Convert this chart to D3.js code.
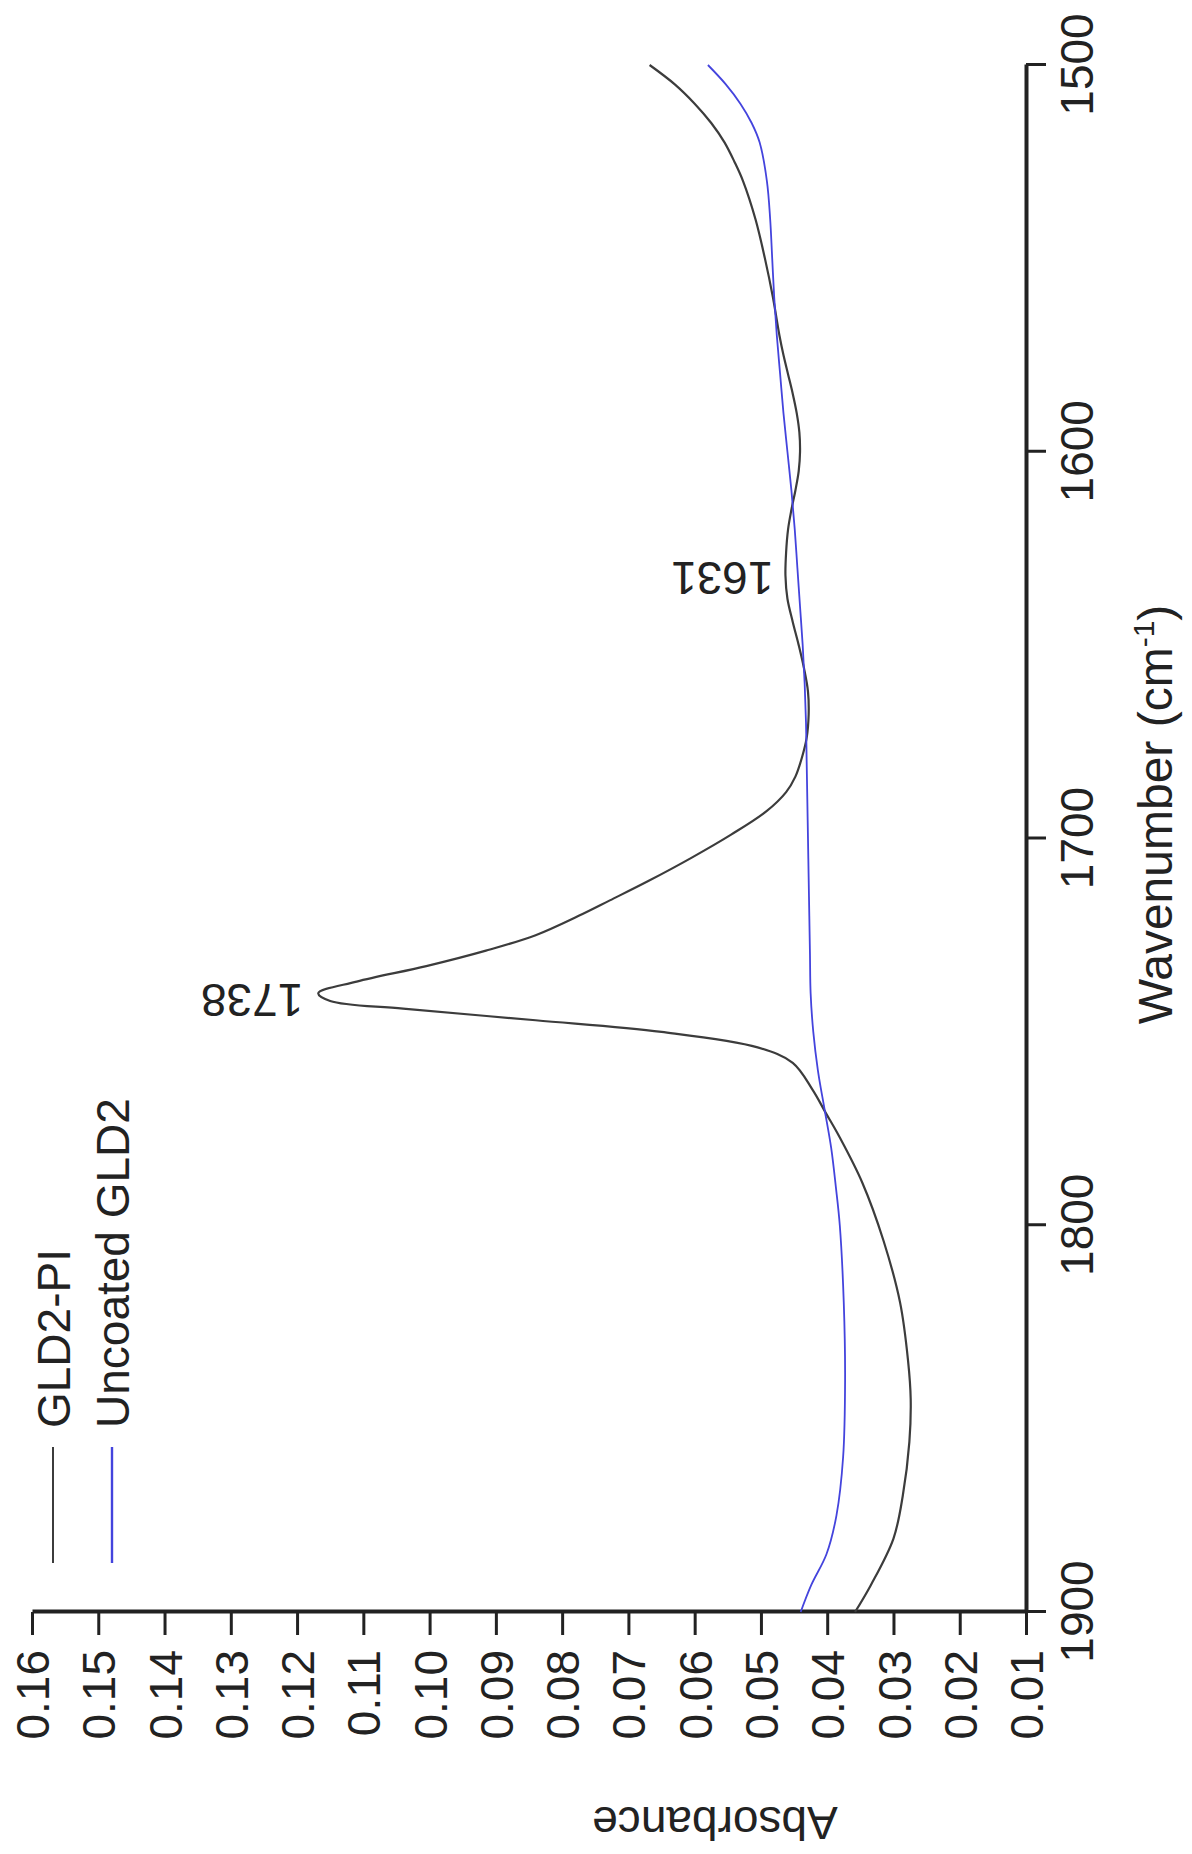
<!DOCTYPE html>
<html><head><meta charset="utf-8">
<script src="https://cdn.jsdelivr.net/npm/d3@7"></script>
<style>html,body{margin:0;padding:0;background:#fff}</style>
</head><body>
<svg id="c" width="1192" height="1854"></svg>
<script>
// ---- data ----
const wnMajorTicks = [1500, 1600, 1700, 1800, 1900];
const wnMinorTicks = [1550, 1650, 1750, 1850];
const absMajorTicks = [0.01,0.02,0.03,0.04,0.05,0.06,0.07,0.08,0.09,0.10,0.11,0.12,0.13,0.14,0.15,0.16];
const absMinorTicks = [0.015,0.025,0.035,0.045,0.055,0.065,0.075,0.085,0.095,0.105,0.115,0.125,0.135,0.145,0.155];
const seriesNames = ["GLD2-PI", "Uncoated GLD2"];
const seriesColors = ["#3c3c3c", "#4444dd"];

const gldWn  = [1500,1505,1510,1515,1520,1525,1530,1540,1550,1560,1570,1575,1580,1585,1590,1595,1600,1605,1610,1615,1620,1626,1632,1638,1644,1650,1656,1662,1668,1674,1679,1684,1688,1693,1699,1705,1711,1716,1720,1725,1729,1733,1737,1740,1742,1744,1747,1750,1754,1758,1765,1771,1777,1789,1804,1820,1835,1845,1856,1870,1881,1893,1900];
const gldAbs = [0.0668,0.0630,0.0600,0.0575,0.0555,0.0540,0.0527,0.0508,0.0494,0.0482,0.0472,0.0466,0.0459,0.0452,0.0446,0.0442,0.0441,0.0443,0.0448,0.0454,0.0459,0.0462,0.0463,0.0460,0.0452,0.0443,0.0435,0.0429,0.0428,0.0431,0.0438,0.0448,0.0462,0.0492,0.0545,0.0605,0.0670,0.0728,0.0775,0.0840,0.0915,0.1005,0.1110,0.1168,0.1150,0.1040,0.0840,0.0650,0.0505,0.0452,0.0422,0.0402,0.0382,0.0347,0.0315,0.0290,0.0278,0.0274,0.0276,0.0286,0.0300,0.0334,0.0358];

const uncWn  = [1500,1505,1510,1515,1520,1530,1540,1550,1560,1570,1580,1590,1600,1610,1620,1630,1640,1650,1660,1670,1680,1690,1700,1710,1720,1730,1740,1750,1760,1770,1780,1790,1800,1820,1840,1860,1875,1885,1893,1900];
const uncAbs = [0.0580,0.0553,0.0531,0.0514,0.0502,0.0491,0.0486,0.0483,0.0480,0.0476,0.0471,0.0466,0.0460,0.0454,0.0449,0.0445,0.0441,0.0437,0.0434,0.0432,0.0431,0.0430,0.0429,0.0428,0.0427,0.0426,0.0425,0.0421,0.0414,0.0404,0.0394,0.0387,0.0381,0.0375,0.0373,0.0376,0.0386,0.0401,0.0424,0.0440];

const peakLabels = ["1738", "1631"];
const peakWn = [1742, 1633];
const peakAbs = [0.1168, 0.0463];

// ---- drawing ----
const FONT = "'Liberation Sans', Arial, Helvetica, sans-serif";
const PAGE_H = 1854;
const svg = d3.select("#c");
// whole chart is drawn normally, then turned 90deg counter-clockwise
const g = svg.append("g").attr("transform", `translate(0,${PAGE_H}) rotate(-90)`);

const x = d3.scaleLinear().domain([1900, 1500]).range([242, 1789]);
const y = d3.scaleLinear().domain([0.01, 0.16]).range([1026, 32]);

// wavenumber axis (bottom)
const xAxisG = g.append("g").attr("transform", `translate(0,${y(0.01)})`);
xAxisG.call(d3.axisBottom(x).tickValues(wnMinorTicks).tickSize(11).tickSizeOuter(0).tickFormat(""));
xAxisG.call(d3.axisBottom(x).tickValues(wnMajorTicks).tickSize(20).tickSizeOuter(0).tickFormat(d3.format("d")));
xAxisG.selectAll("path.domain").attr("stroke", "#222").attr("stroke-width", 4);
xAxisG.selectAll(".tick line").attr("stroke", "#222").attr("stroke-width", 3);
xAxisG.selectAll(".tick text").attr("y", 67).attr("dy", 0)
  .attr("font-family", FONT).attr("font-size", 46).attr("fill", "#222");

// absorbance axis (left)
const yAxisG = g.append("g").attr("transform", `translate(${x(1900)},0)`);
yAxisG.call(d3.axisLeft(y).tickValues(absMinorTicks).tickSize(12).tickSizeOuter(0).tickFormat(""));
yAxisG.call(d3.axisLeft(y).tickValues(absMajorTicks).tickSize(23).tickSizeOuter(0).tickFormat(d3.format(".2f")));
yAxisG.selectAll("path.domain").attr("stroke", "#222").attr("stroke-width", 4);
yAxisG.selectAll(".tick line").attr("stroke", "#222").attr("stroke-width", 3);
yAxisG.selectAll(".tick text").attr("x", -38).attr("dy", "0.36em")
  .attr("font-family", FONT).attr("font-size", 46).attr("fill", "#222");

// axis titles
const xt = g.append("text").attr("x", x(1700) + 24).attr("y", 1172)
  .attr("text-anchor", "middle").attr("font-family", FONT).attr("font-size", 48).attr("fill", "#222");
xt.append("tspan").text("Wavenumber (cm");
xt.append("tspan").attr("dy", -18).attr("font-size", 30).text("-1");
xt.append("tspan").attr("dy", 18).text(")");

g.append("text").attr("transform", `translate(47,715) rotate(-90)`)
  .attr("text-anchor", "middle").attr("font-family", FONT).attr("font-size", 46).attr("fill", "#222")
  .text("Absorbance");

// curves
const line = d3.line().x(d => x(d[0])).y(d => y(d[1])).curve(d3.curveCatmullRom.alpha(0.5));
const seriesData = [d3.zip(gldWn, gldAbs), d3.zip(uncWn, uncAbs)];
g.selectAll("path.series").data(seriesData).join("path")
  .attr("class", "series").attr("d", line).attr("fill", "none")
  .attr("stroke", (d, i) => seriesColors[i]).attr("stroke-width", (d, i) => i === 0 ? 2.2 : 1.8);

// legend
const legendV = [53, 112];
seriesNames.forEach((name, i) => {
  g.append("line").attr("x1", 291).attr("x2", 407).attr("y1", legendV[i]).attr("y2", legendV[i])
    .attr("stroke", seriesColors[i]).attr("stroke-width", i === 0 ? 2 : 2.4);
  g.append("text").attr("x", 426).attr("y", legendV[i] + 17)
    .attr("font-family", FONT).attr("font-size", 46).attr("fill", "#222").text(name);
});

// peak annotations (vertical text)
const labelOffset = [15, 12];
peakLabels.forEach((t, i) => {
  const px = x(peakWn[i]), py = y(peakAbs[i]) - labelOffset[i];
  g.append("text").attr("transform", `translate(${px + 17},${py}) rotate(-90)`)
    .attr("font-family", FONT).attr("font-size", 46).attr("fill", "#222").text(t);
});
</script>
</body></html>
